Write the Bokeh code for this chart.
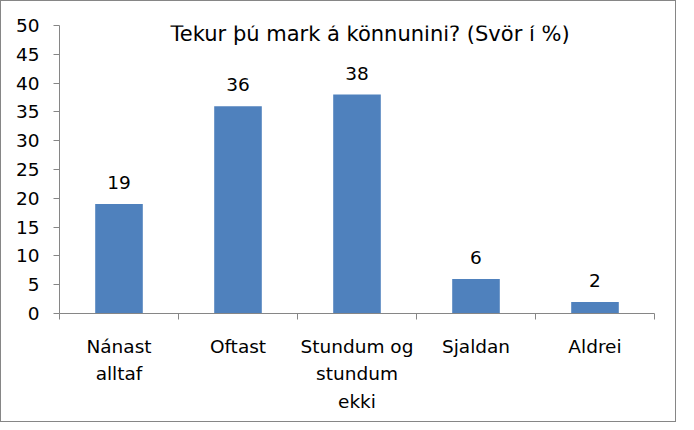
from bokeh.plotting import figure
from bokeh.models import ColumnDataSource, FixedTicker, LabelSet, Label
from bokeh.core.properties import value
from bokeh.embed import file_html
from bokeh.resources import INLINE

categories = ["Nánast\nalltaf", "Oftast", "Stundum og\nstundum\nekki", "Sjaldan", "Aldrei"]
values = [19, 36, 38, 6, 2]
y_ticks = [0, 5, 10, 15, 20, 25, 30, 35, 40, 45, 50]
title_text = "Tekur þú mark á könnunini? (Svör í %)"

FONT = "DejaVu Sans"
FS = "18.5px"
GRAY = "#868686"
BAR = "#4F81BD"

xs = [i + 0.5 for i in range(len(categories))]
src = ColumnDataSource(dict(x=xs, top=values, lab=[str(v) for v in values]))

p = figure(width=676, height=422, output_backend="svg", toolbar_location=None,
           x_range=(0, len(categories)), y_range=(0, 50),
           min_border_left=58, min_border_right=23, min_border_top=24, min_border_bottom=110)
p.styles = {"border": f"1px solid {GRAY}", "box-sizing": "border-box"}
p.outline_line_color = None
p.grid.visible = False
p.background_fill_color = "white"
p.border_fill_color = "white"

p.vbar(x="x", top="top", width=0.4, source=src, fill_color=BAR, line_color=None)

p.add_layout(LabelSet(x="x", y="top", text="lab", source=src, y_offset=15,
                      text_align="center", text_baseline="alphabetic",
                      text_font=value(FONT), text_font_size=FS, text_color="black"))

p.add_layout(Label(x=2.61, y=48.6, text=title_text, text_align="center",
                   text_baseline="alphabetic", text_font=FONT, text_font_size="21px",
                   text_color="black"))

# y axis
p.yaxis.ticker = FixedTicker(ticks=y_ticks, minor_ticks=[])
p.yaxis.axis_line_color = GRAY
p.yaxis.major_tick_line_color = GRAY
p.yaxis.major_tick_out = 6
p.yaxis.major_tick_in = 0
p.yaxis.minor_tick_line_color = None
p.yaxis.major_label_text_font = FONT
p.yaxis.major_label_text_font_size = FS
p.yaxis.major_label_text_color = "black"
p.yaxis.major_label_standoff = 14

# x axis
p.xaxis.ticker = FixedTicker(ticks=xs, minor_ticks=list(range(len(categories) + 1)))
p.xaxis.major_label_overrides = {x: c for x, c in zip(xs, categories)}
p.xaxis.axis_line_color = GRAY
p.xaxis.major_tick_line_color = None
p.xaxis.major_tick_out = 0
p.xaxis.major_tick_in = 0
p.xaxis.minor_tick_line_color = GRAY
p.xaxis.minor_tick_out = 6
p.xaxis.minor_tick_in = 0
p.xaxis.major_label_text_font = FONT
p.xaxis.major_label_text_font_size = FS
p.xaxis.major_label_text_color = "black"
p.xaxis.major_label_text_line_height = 1.32
p.xaxis.major_label_standoff = 16

open("out.html", "w").write(file_html(p, INLINE))
